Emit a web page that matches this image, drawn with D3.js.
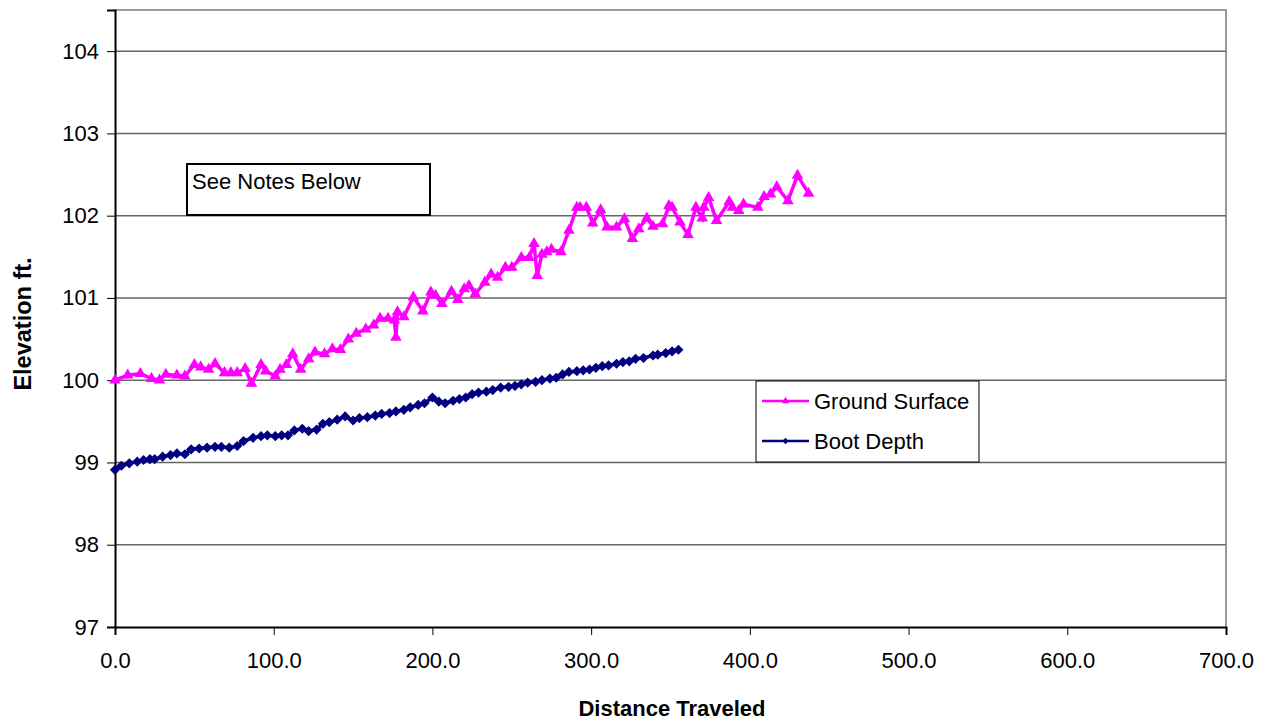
<!DOCTYPE html>
<html>
<head>
<meta charset="utf-8">
<script src="https://cdn.jsdelivr.net/npm/d3@7"></script>
<style>
  body { margin: 0; background: #fff; }
  text { font-family: "Liberation Sans", Arial, sans-serif; }
</style>
</head>
<body>
<div id="chart"></div>
<script>
// distance values (ft) and elevations
const groundDist = [0, 8, 16, 23, 28, 32, 39, 44, 50, 54, 59, 63, 69, 73, 77, 82, 86, 92, 95, 101, 104, 108, 112, 117, 122, 126, 132, 137, 142, 147, 152, 158, 163, 167, 172, 176, 177, 178, 182, 188, 194, 199, 202, 206, 212, 216, 220, 223, 227, 233, 237, 241, 246, 250, 256, 261, 264, 266, 269, 272, 275, 281, 286, 291, 293, 297, 301, 306, 310, 316, 321, 326, 330, 335, 339, 345, 349, 351, 356, 361, 366, 370, 371, 374, 379, 387, 389, 393, 396, 405, 409, 413, 417, 424, 430, 437];
const groundElev = [100.00, 100.06, 100.08, 100.02, 100.00, 100.07, 100.06, 100.05, 100.19, 100.16, 100.13, 100.20, 100.09, 100.09, 100.09, 100.14, 99.96, 100.19, 100.11, 100.05, 100.13, 100.19, 100.32, 100.13, 100.26, 100.34, 100.32, 100.38, 100.37, 100.50, 100.57, 100.62, 100.67, 100.75, 100.75, 100.73, 100.52, 100.83, 100.77, 101.01, 100.84, 101.07, 101.03, 100.93, 101.08, 100.98, 101.11, 101.15, 101.05, 101.19, 101.29, 101.25, 101.37, 101.37, 101.49, 101.49, 101.66, 101.27, 101.53, 101.56, 101.59, 101.56, 101.82, 102.10, 102.10, 102.10, 101.91, 102.07, 101.86, 101.86, 101.96, 101.72, 101.84, 101.97, 101.87, 101.90, 102.12, 102.10, 101.92, 101.77, 102.10, 101.97, 102.10, 102.22, 101.94, 102.17, 102.10, 102.06, 102.14, 102.10, 102.23, 102.26, 102.35, 102.18, 102.49, 102.27];

const bootDist = [0, 4, 9, 14, 18, 22, 25, 30, 35, 39, 44, 48, 53, 58, 63, 67, 72, 77, 81, 87, 92, 96, 101, 105, 109, 113, 118, 122, 127, 131, 135, 140, 145, 150, 154, 159, 164, 168, 173, 177, 182, 186, 191, 195, 200, 204, 208, 213, 217, 221, 225, 229, 234, 238, 243, 248, 252, 256, 260, 265, 269, 274, 278, 282, 286, 291, 295, 299, 303, 307, 311, 316, 320, 324, 328, 333, 339, 342, 347, 351, 355];
const bootElev = [98.91, 98.96, 98.99, 99.01, 99.03, 99.04, 99.04, 99.07, 99.09, 99.11, 99.10, 99.16, 99.17, 99.18, 99.19, 99.19, 99.18, 99.20, 99.26, 99.30, 99.32, 99.33, 99.32, 99.33, 99.33, 99.39, 99.41, 99.38, 99.40, 99.47, 99.49, 99.52, 99.56, 99.51, 99.54, 99.55, 99.57, 99.59, 99.60, 99.62, 99.64, 99.67, 99.70, 99.72, 99.79, 99.74, 99.72, 99.75, 99.77, 99.79, 99.83, 99.85, 99.86, 99.88, 99.91, 99.92, 99.93, 99.95, 99.97, 99.98, 100.00, 100.02, 100.03, 100.07, 100.10, 100.11, 100.12, 100.13, 100.15, 100.17, 100.18, 100.20, 100.22, 100.23, 100.26, 100.27, 100.30, 100.31, 100.33, 100.35, 100.37];

const xTicks = [0, 100, 200, 300, 400, 500, 600, 700];
const yTicks = [97, 98, 99, 100, 101, 102, 103, 104];
const seriesNames = ['Ground Surface', 'Boot Depth'];

const W = 1269, H = 721;
const plotLeft = 115, plotRight = 1226, plotTop = 10, plotBottom = 627;

const svg = d3.select('#chart').append('svg')
        .attr('width', W)
        .attr('height', H);

const x = d3.scaleLinear().domain([0, 700]).range([plotLeft, plotRight]);
const y = d3.scaleLinear().domain([97, 104.5]).range([plotBottom, plotTop]);

// plot frame (top / right)
svg.append('path')
        .attr('d', `M${plotLeft},${plotTop}H${plotRight}V${plotBottom}`)
        .attr('fill', 'none')
        .attr('stroke', '#999')
        .attr('stroke-width', 2);

// gridlines
svg.append('g').selectAll('line')
        .data(yTicks.slice(1))
        .join('line')
        .attr('x1', plotLeft).attr('x2', plotRight)
        .attr('y1', d => y(d)).attr('y2', d => y(d))
        .attr('stroke', '#666')
        .attr('stroke-width', 1.5);

// y axis
const yAxis = svg.append('g')
        .attr('transform', `translate(${plotLeft},0)`)
        .call(d3.axisLeft(y).tickValues(yTicks).tickSize(8).tickPadding(8).tickFormat(d3.format('d')));
yAxis.select('.domain').attr('stroke', '#000').attr('stroke-width', 2);
yAxis.selectAll('.tick line').attr('stroke', '#000');
yAxis.selectAll('.tick text').attr('font-size', 22).attr('fill', '#000')
        .attr('font-family', '"Liberation Sans", Arial, sans-serif');

// x axis
const xAxis = svg.append('g')
        .attr('transform', `translate(0,${plotBottom})`)
        .call(d3.axisBottom(x).tickValues(xTicks).tickSize(8).tickPadding(17).tickFormat(d3.format('.1f')));
xAxis.select('.domain').attr('stroke', '#000').attr('stroke-width', 2);
xAxis.selectAll('.tick line').attr('stroke', '#000');
xAxis.selectAll('.tick text').attr('font-size', 22).attr('fill', '#000')
        .attr('font-family', '"Liberation Sans", Arial, sans-serif');

// axis titles
svg.append('text')
        .attr('x', 672).attr('y', 716)
        .attr('text-anchor', 'middle')
        .attr('font-size', 22).attr('font-weight', 'bold')
        .text('Distance Traveled');

svg.append('text')
        .attr('transform', 'translate(31,324) rotate(-90)')
        .attr('text-anchor', 'middle')
        .attr('font-size', 23.5).attr('font-weight', 'bold')
        .text('Elevation ft.');

const line = d3.line().x(d => x(d[0])).y(d => y(d[1]));

const ground = d3.zip(groundDist, groundElev);
const boot = d3.zip(bootDist, bootElev);

const triangle = d3.symbol().type(d3.symbolTriangle).size(58);
const diamond = d3.symbol().type(d3.symbolSquare).size(52);

// ground surface
svg.append('path')
        .datum(ground)
        .attr('d', line)
        .attr('fill', 'none')
        .attr('stroke', '#ff00ff')
        .attr('stroke-width', 3.5);
svg.append('g').selectAll('path')
        .data(ground)
        .join('path')
        .attr('d', triangle)
        .attr('transform', d => `translate(${x(d[0])},${y(d[1])})`)
        .attr('fill', '#ff00ff');

// boot depth
svg.append('path')
        .datum(boot)
        .attr('d', line)
        .attr('fill', 'none')
        .attr('stroke', '#000080')
        .attr('stroke-width', 3.5);
svg.append('g').selectAll('path')
        .data(boot)
        .join('path')
        .attr('d', diamond)
        .attr('transform', d => `translate(${x(d[0])},${y(d[1])}) rotate(45)`)
        .attr('fill', '#000080');

// note box
svg.append('rect')
        .attr('x', 187).attr('y', 164)
        .attr('width', 243).attr('height', 51)
        .attr('fill', '#fff')
        .attr('stroke', '#000')
        .attr('stroke-width', 2);
svg.append('text')
        .attr('x', 192).attr('y', 189)
        .attr('font-size', 22)
        .text('See Notes Below');

// legend
const legend = svg.append('g');
legend.append('rect')
        .attr('x', 756).attr('y', 381)
        .attr('width', 223).attr('height', 81)
        .attr('fill', '#fff')
        .attr('stroke', '#000')
        .attr('stroke-width', 1);

const legendRows = [
        { name: seriesNames[0], color: '#ff00ff', sym: d3.symbol().type(d3.symbolTriangle).size(24), rot: 0, cy: 401 },
        { name: seriesNames[1], color: '#000080', sym: d3.symbol().type(d3.symbolSquare).size(20), rot: 45, cy: 441 }
];
legendRows.forEach(r => {
        legend.append('line')
                .attr('x1', 762).attr('x2', 809)
                .attr('y1', r.cy).attr('y2', r.cy)
                .attr('stroke', r.color).attr('stroke-width', 2.5);
        legend.append('path')
                .attr('d', r.sym())
                .attr('transform', `translate(785.5,${r.cy}) rotate(${r.rot})`)
                .attr('fill', r.color);
        legend.append('text')
                .attr('x', 814).attr('y', r.cy + 8)
                .attr('font-size', 22)
                .text(r.name);
});
</script>
</body>
</html>
